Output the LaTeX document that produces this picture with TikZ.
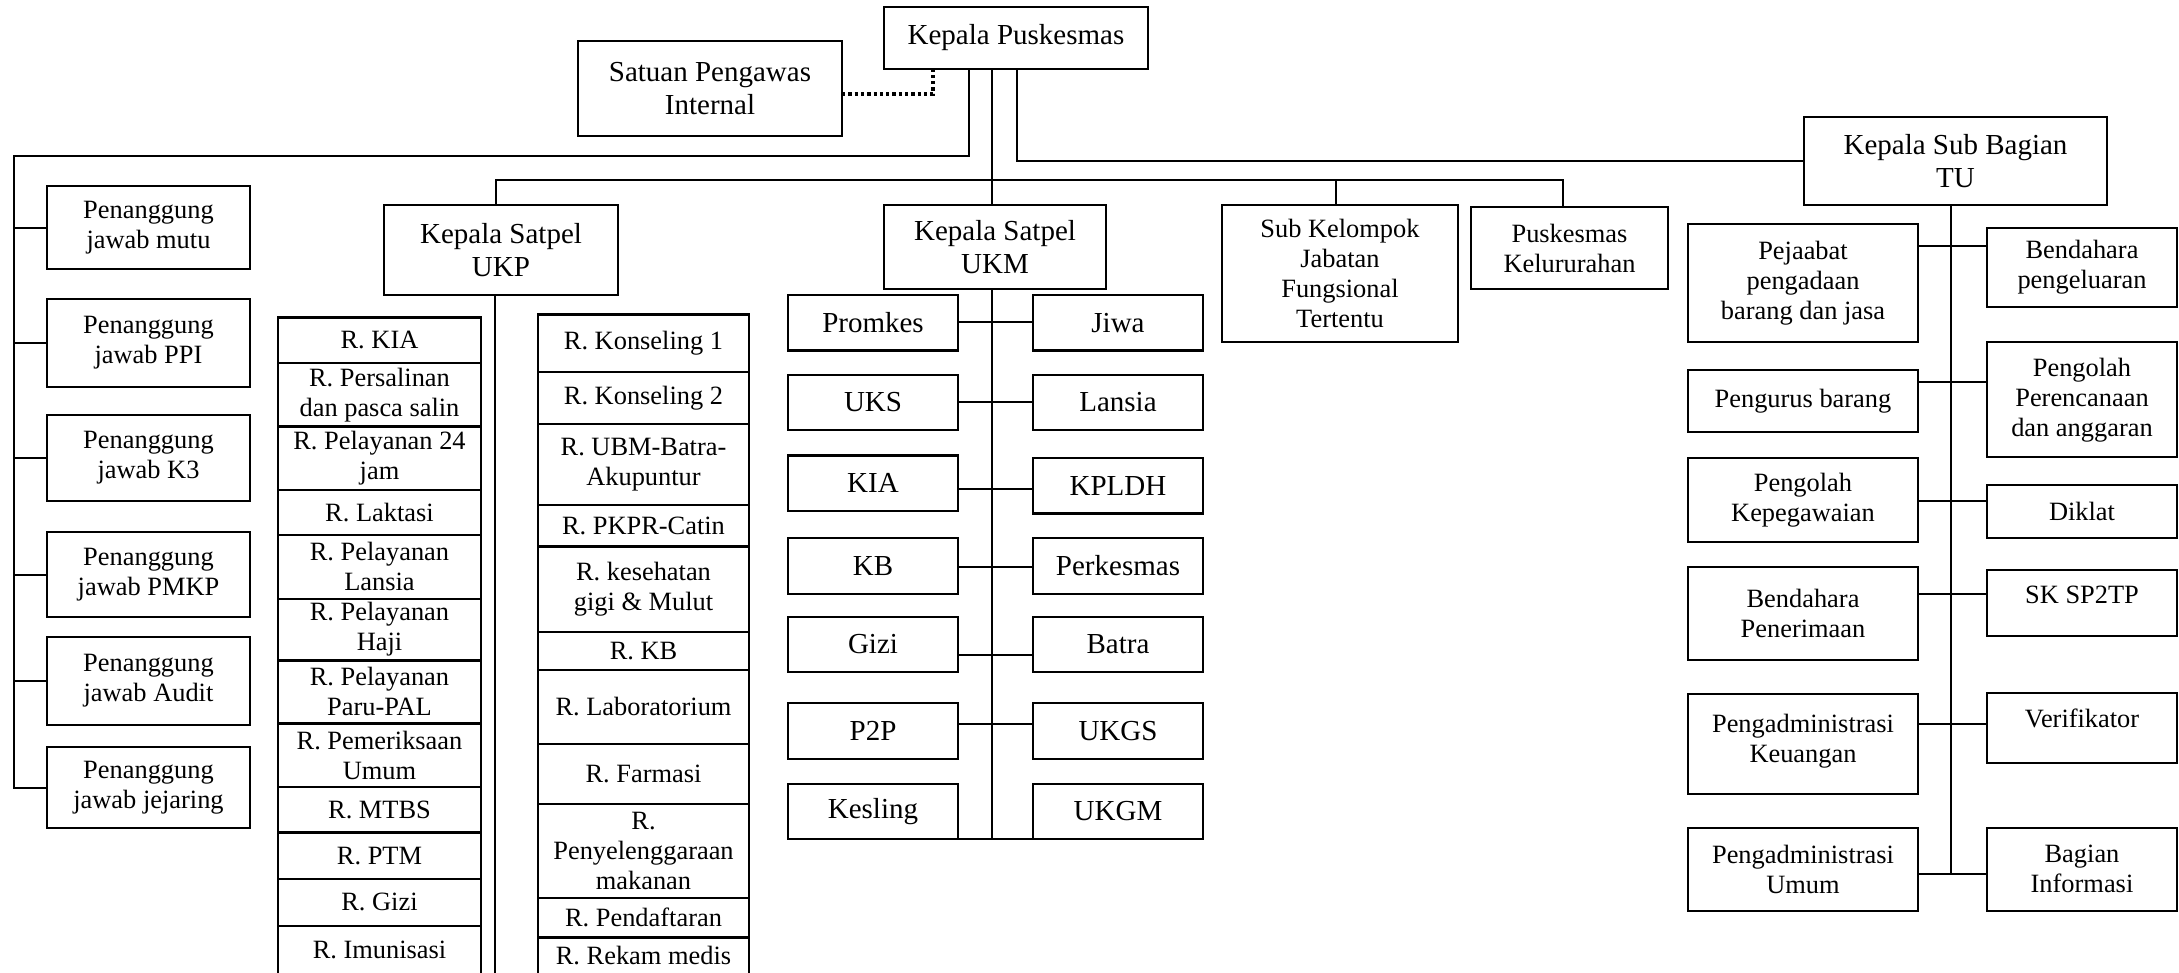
\documentclass[tikz,border=0pt]{standalone}
\usepackage{fontspec}
\setmainfont{Liberation Serif}
\newcommand\szA{\fontsize{26.4}{30}\selectfont}
\newcommand\szB{\fontsize{29}{33}\selectfont}
\tikzset{
  box/.style={draw, line width=2.2pt, inner sep=0pt, outer sep=0pt, align=center, font=\szA},
  big/.style={font=\szB},
  ln/.style={line width=2pt},
  dotline/.style={line width=3.5pt, dash pattern=on 3.3pt off 3pt},
}
% \bx[opts]{name}{x1}{y1}{x2}{y2}{text}
\newcommand{\bx}[7][]{\node[box,#1,minimum width={(#5-#3)*1pt},minimum height={(#6-#4)*1pt}] (#2) at ({(#3+#5)/2},{(#4+#6)/2}) {#7};}
\begin{document}
\begin{tikzpicture}[x=1pt,y=-1pt]
\useasboundingbox (0,0) rectangle (2179,972);
% top
\bx[big]{kp}{884}{7}{1148}{69}{Kepala Puskesmas}
\bx[big]{spi}{578}{41}{842}{136}{Satuan Pengawas\\Internal}
\bx[big]{tu}{1804}{117}{2107}{205}{Kepala Sub Bagian\\TU}
% left column
\bx{pj1}{47}{186}{250}{269}{Penanggung\\jawab mutu}
\bx{pj2}{47}{299}{250}{387}{Penanggung\\jawab PPI}
\bx{pj3}{47}{415}{250}{501}{Penanggung\\jawab K3}
\bx{pj4}{47}{532}{250}{617}{Penanggung\\jawab PMKP}
\bx{pj5}{47}{637}{250}{725}{Penanggung\\jawab Audit}
\bx{pj6}{47}{747}{250}{828}{Penanggung\\jawab jejaring}
% UKP
\bx[big]{ukp}{384}{205}{618}{295}{Kepala Satpel\\UKP}
\bx{a1}{278}{317.5}{481}{363}{R. KIA}
\bx{a2}{278}{363}{481}{426.5}{R. Persalinan\\dan pasca salin}
\bx{a3}{278}{426.5}{481}{489.6}{R. Pelayanan 24\\jam}
\bx{a4}{278}{489.6}{481}{535}{R. Laktasi}
\bx{a5}{278}{535}{481}{598.6}{R. Pelayanan\\Lansia}
\bx{a6}{278}{598.6}{481}{660.4}{R. Pelayanan\\Haji}
\bx{a7}{278}{660.4}{481}{723.5}{R. Pelayanan\\Paru-PAL}
\bx{a8}{278}{723.5}{481}{786.6}{R. Pemeriksaan\\Umum}
\bx{a9}{278}{786.6}{481}{832.5}{R. MTBS}
\bx{a10}{278}{832.5}{481}{878.9}{R. PTM}
\bx{a11}{278}{878.9}{481}{925.6}{R. Gizi}
\bx{a12}{278}{925.6}{481}{974}{R. Imunisasi}
\bx{b1}{538}{314.4}{749}{371.8}{R. Konseling 1}
\bx{b2}{538}{371.8}{749}{423.9}{R. Konseling 2}
\bx{b3}{538}{423.9}{749}{505}{R. UBM-Batra-\\Akupuntur}
\bx{b4}{538}{505}{749}{546.5}{R. PKPR-Catin}
\bx{b5}{538}{546.5}{749}{631.7}{R. kesehatan\\gigi \& Mulut}
\bx{b6}{538}{631.7}{749}{669.7}{R. KB}
\bx{b7}{538}{669.7}{749}{744.3}{R. Laboratorium}
\bx{b8}{538}{744.3}{749}{804.3}{R. Farmasi}
\bx{b9}{538}{804.3}{749}{897.8}{R.\\Penyelenggaraan\\makanan}
\bx{b10}{538}{897.8}{749}{937.5}{R. Pendaftaran}
\bx{b11}{538}{937.5}{749}{974}{R. Rekam medis}
% UKM
\bx[big]{ukm}{884}{205}{1106}{289}{Kepala Satpel\\UKM}
\bx[big]{m1}{788}{295}{958}{350.5}{Promkes}
\bx[big]{m2}{788}{375}{958}{430}{UKS}
\bx[big]{m3}{788}{455.4}{958}{510.8}{KIA}
\bx[big]{m4}{788}{538}{958}{594}{KB}
\bx[big]{m5}{788}{616.6}{958}{672}{Gizi}
\bx[big]{m6}{788}{703}{958}{759}{P2P}
\bx[big]{m7}{788}{784}{958}{839}{Kesling}
\bx[big]{n1}{1033}{295}{1203}{350.5}{Jiwa}
\bx[big]{n2}{1033}{375}{1203}{430}{Lansia}
\bx[big]{n3}{1033}{458}{1203}{513.5}{KPLDH}
\bx[big]{n4}{1033}{538}{1203}{594}{Perkesmas}
\bx[big]{n5}{1033}{616.6}{1203}{672}{Batra}
\bx[big]{n6}{1033}{703}{1203}{759}{UKGS}
\bx[big]{n7}{1033}{784}{1203}{839}{UKGM}
% middle
\bx{skj}{1222}{205}{1458}{342}{Sub Kelompok\\Jabatan\\Fungsional\\Tertentu}
\bx{pkl}{1471}{207}{1668}{289}{Puskesmas\\Kelururahan}
% TU
\bx{t1}{1688}{224}{1918}{342.3}{Pejaabat\\pengadaan\\barang dan jasa}
\bx{t2}{1688}{370}{1918}{432}{Pengurus barang}
\bx{t3}{1688}{458.3}{1918}{541.7}{Pengolah\\Kepegawaian}
\bx{t4}{1688}{567.3}{1918}{660}{Bendahara\\Penerimaan}
\bx{t5}{1688}{694}{1918}{793.7}{Pengadministrasi\\Keuangan\\[-18pt]}
\bx{t6}{1688}{827.7}{1918}{911}{Pengadministrasi\\Umum}
\bx{r1}{1987}{227.7}{2177}{307}{Bendahara\\pengeluaran}
\bx{r2}{1987}{342.3}{2177}{457.3}{Pengolah\\Perencanaan\\dan anggaran}
\bx{r3}{1987}{485}{2177}{538.3}{Diklat}
\bx[text depth=17pt]{r4}{1987}{570}{2177}{636}{SK SP2TP}
\bx[text depth=21pt]{r5}{1987}{693.3}{2177}{763.3}{Verifikator}
\bx{r6}{1987}{827.7}{2177}{911}{Bagian\\Informasi}
% connectors: top
\draw[dotline] (spi.east |- 0,94) -| (933,0 |- kp.south);
\coordinate (lt) at (14,156);
\draw[ln] (969,0 |- kp.south) |- (lt) -- (lt |- pj6.west) -- (pj6.west);
\foreach \i in {1,...,5} \draw[ln] (lt |- pj\i.west) -- (pj\i.west);
\draw[ln] (992,0 |- kp.south) -- (992,0 |- ukm.north);
\coordinate (hb1) at (496,180);
\coordinate (hb2) at (1563,180);
\draw[ln] (hb1 |- ukp.north) -- (hb1) -- (hb2) -- (hb2 |- pkl.north);
\draw[ln] (1336,180) -- (1336,0 |- skj.north);
\draw[ln] (1017,0 |- kp.south) |- (tu.west);
% UKP trunk
\draw[ln] (495,0 |- ukp.south) -- (495,976);
% UKM
\draw[ln] (992,0 |- ukm.south) -- (992,0 |- m7.south);
\draw[ln] (m1.east |- 0,322) -- (n1.west |- 0,322);
\draw[ln] (m2.east |- 0,402) -- (n2.west |- 0,402);
\draw[ln] (m3.east |- 0,489) -- (n3.west |- 0,489);
\draw[ln] (m4.east |- 0,566.6) -- (n4.west |- 0,566.6);
\draw[ln] (m5.east |- 0,654.5) -- (n5.west |- 0,654.5);
\draw[ln] (m6.east |- 0,723.7) -- (n6.west |- 0,723.7);
\draw[ln] (m7.south east) -- (n7.south west);
% TU
\draw[ln] (1951,0 |- tu.south) -- (1951,874);
\draw[ln] (t1.east |- 0,245.7) -- (r1.west |- 0,245.7);
\draw[ln] (t2.east |- 0,381.7) -- (r2.west |- 0,381.7);
\draw[ln] (t3.east |- 0,501) -- (r3.west |- 0,501);
\draw[ln] (t4.east |- 0,593.7) -- (r4.west |- 0,593.7);
\draw[ln] (t5.east |- 0,724) -- (r5.west |- 0,724);
\draw[ln] (t6.east |- 0,874) -- (r6.west |- 0,874);
\end{tikzpicture}
\end{document}
